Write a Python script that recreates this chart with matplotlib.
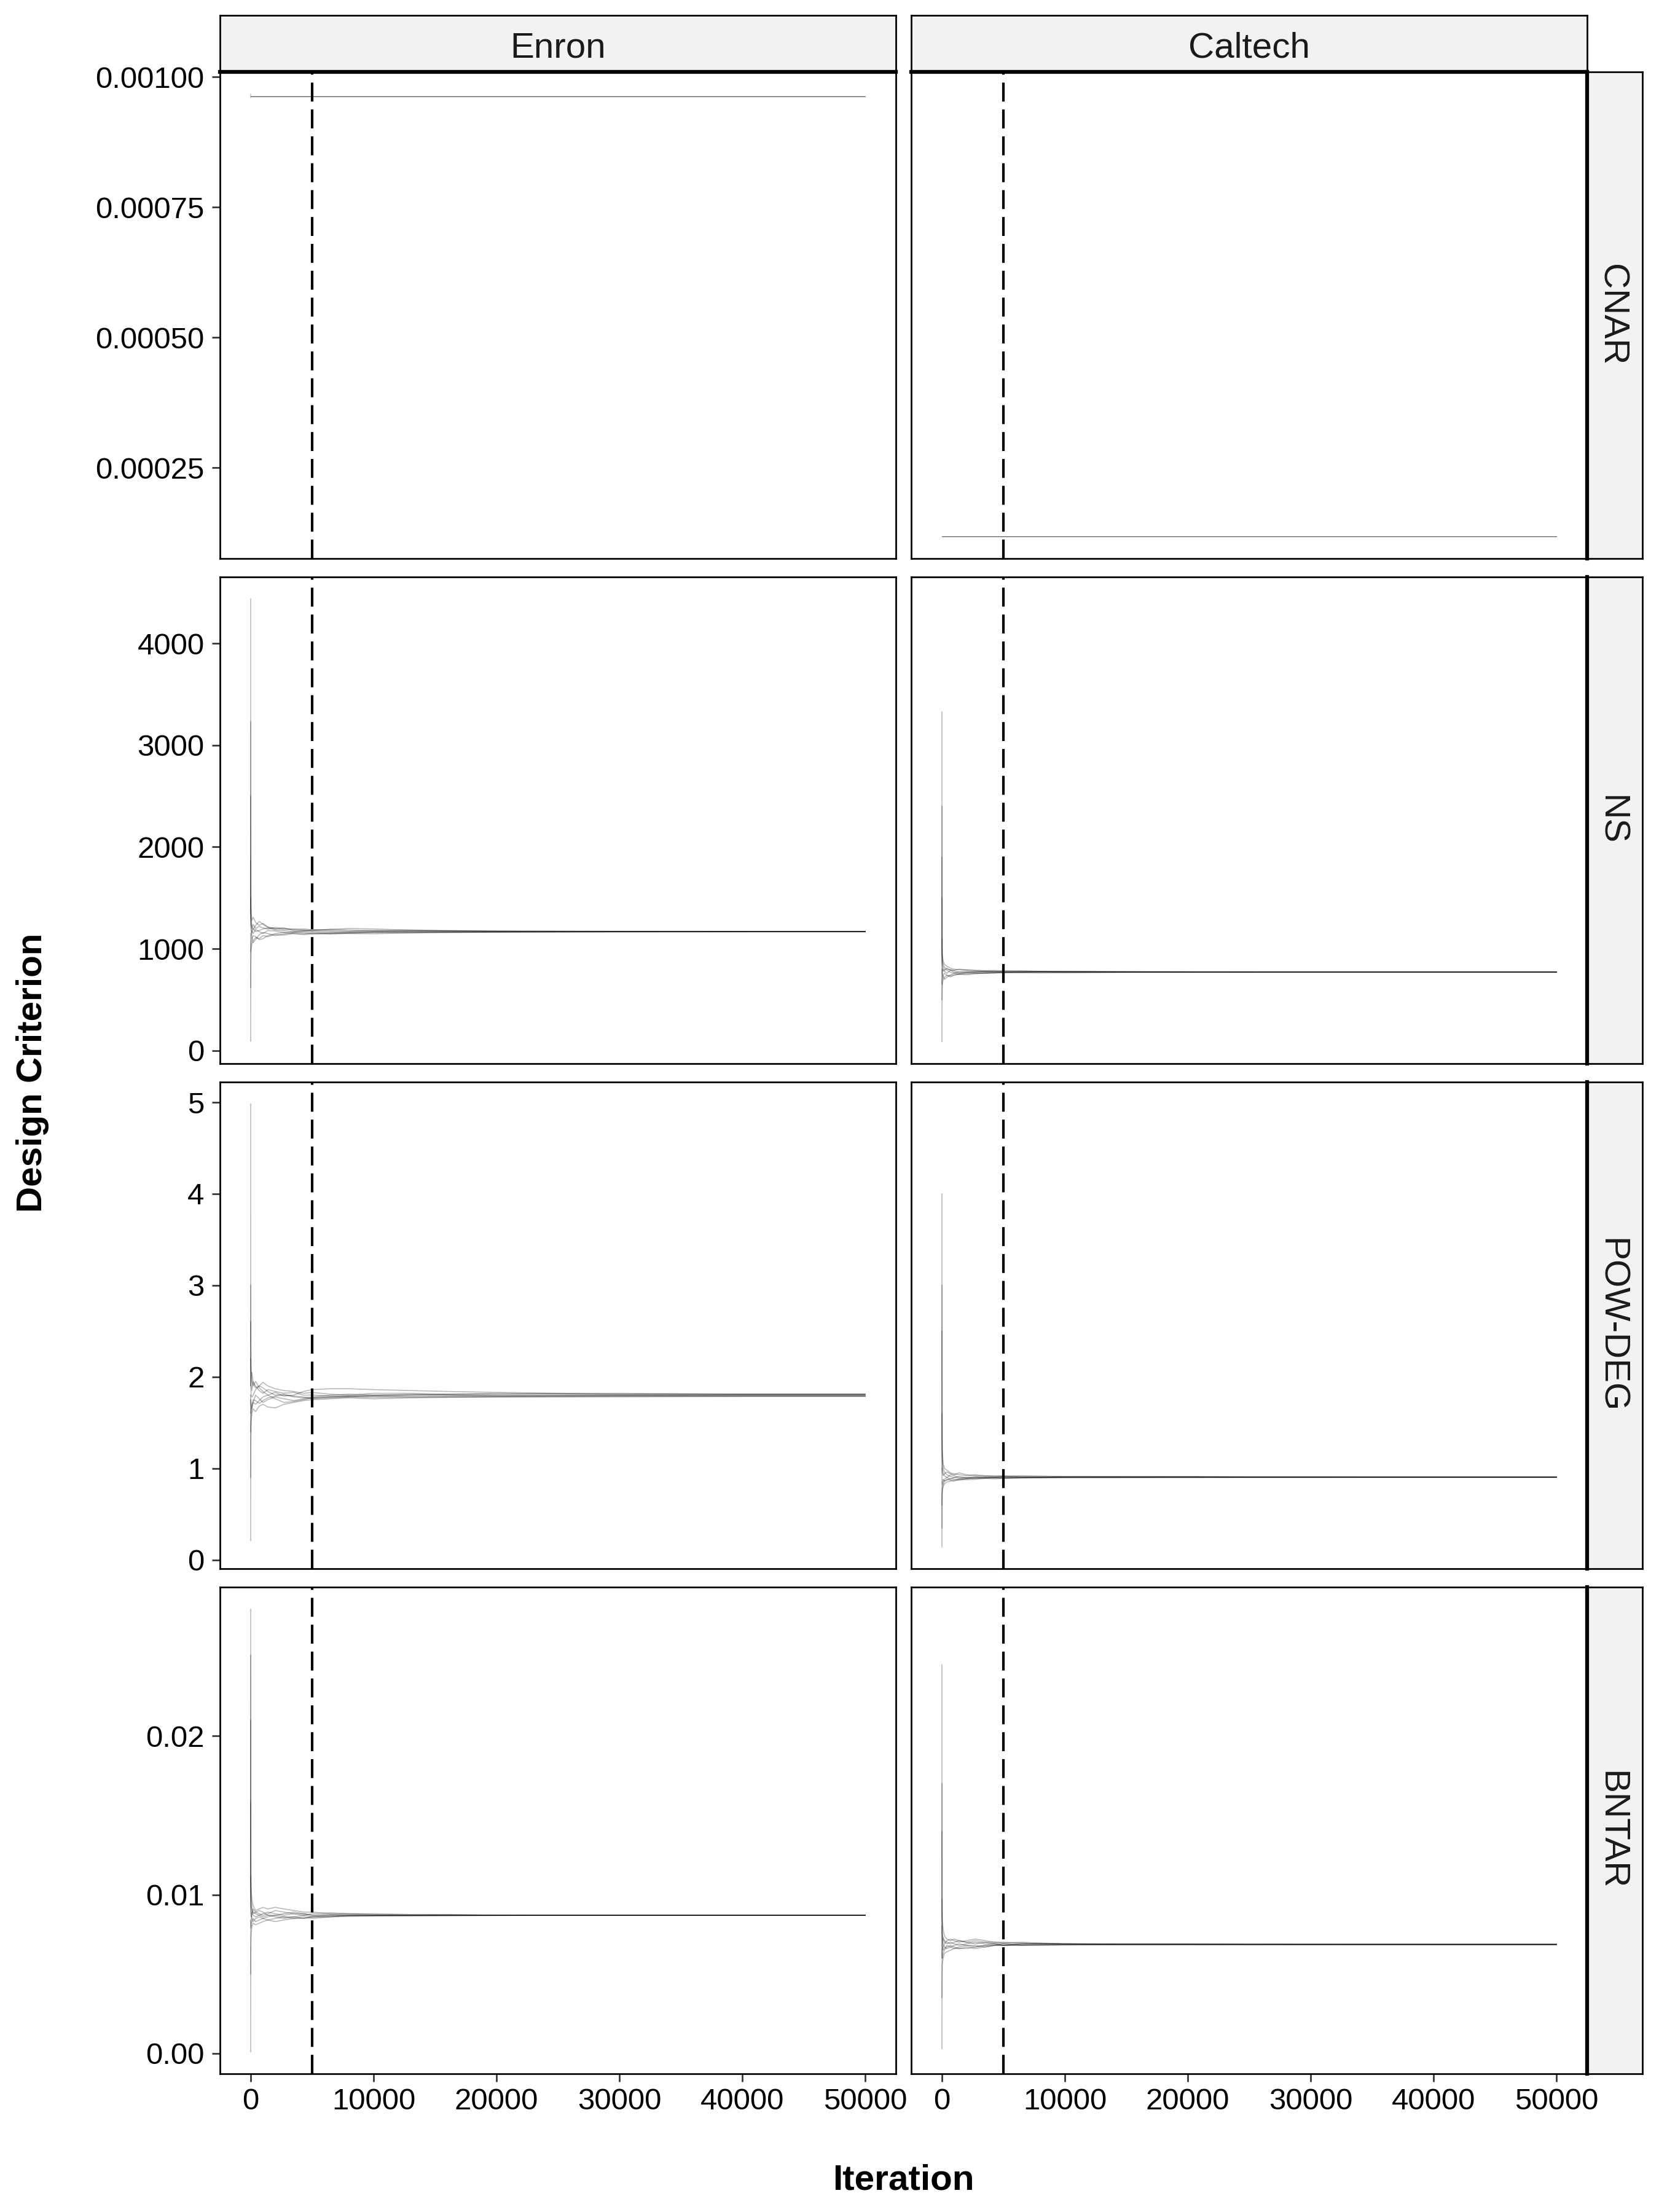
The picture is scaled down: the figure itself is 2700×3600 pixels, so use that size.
import matplotlib
matplotlib.use("Agg")
import matplotlib.pyplot as plt
from matplotlib.lines import Line2D

plt.rcParams['font.family'] = ['Liberation Sans', 'DejaVu Sans']

# ---------------- data ----------------
DATASETS = ["Enron", "Caltech"]
CRITERIA = ["CNAR", "NS", "POW-DEG", "BNTAR"]
BURN_IN = 5000

ITER = [1, 3, 10, 30, 100, 200, 400, 700, 1000, 1400, 2000, 2700, 3500, 4300,
        5000, 6500, 8000, 10000, 13000, 16000, 20000, 25000, 30000, 40000, 50000]
CNAR_ITER = [1, 3, 50000]

CNAR_ENRON = [
    [0.000967, 0.000962, 0.000962],
    [0.000960, 0.000962, 0.000962],
    [0.000962, 0.000962, 0.000962],
]
CNAR_CALTECH = [
    [0.000118, 0.000118, 0.000118],
    [0.000118, 0.000118, 0.000118],
    [0.000118, 0.000118, 0.000118],
]

NS_ENRON = [
    [4435, 2300, 1600, 1350, 1280, 1310, 1260, 1230, 1250, 1215, 1200, 1190, 1195, 1185, 1180, 1192, 1185, 1178, 1182, 1176, 1173, 1172, 1171, 1170, 1170],
    [95, 520, 850, 980, 1050, 1080, 1110, 1100, 1130, 1120, 1140, 1135, 1150, 1148, 1155, 1150, 1158, 1162, 1160, 1165, 1166, 1167, 1168, 1168, 1169],
    [3230, 1900, 1450, 1300, 1220, 1190, 1230, 1270, 1240, 1210, 1195, 1205, 1180, 1175, 1185, 1190, 1200, 1195, 1185, 1180, 1176, 1174, 1172, 1171, 1170],
    [1870, 1500, 1250, 1180, 1120, 1060, 1090, 1140, 1160, 1150, 1130, 1145, 1160, 1170, 1165, 1158, 1150, 1148, 1155, 1160, 1163, 1165, 1167, 1168, 1168],
    [975, 1150, 1050, 1110, 1180, 1150, 1190, 1170, 1150, 1180, 1175, 1160, 1150, 1140, 1145, 1155, 1165, 1170, 1168, 1166, 1168, 1170, 1169, 1169, 1169],
    [1500, 1350, 1400, 1260, 1200, 1240, 1200, 1220, 1205, 1195, 1210, 1200, 1190, 1195, 1188, 1180, 1175, 1180, 1178, 1175, 1172, 1170, 1171, 1170, 1170],
    [620, 900, 1000, 1060, 1100, 1130, 1120, 1090, 1100, 1130, 1150, 1160, 1165, 1158, 1150, 1145, 1152, 1160, 1163, 1162, 1164, 1166, 1167, 1168, 1168],
    [2500, 1700, 1300, 1220, 1160, 1200, 1170, 1180, 1195, 1205, 1185, 1178, 1170, 1180, 1175, 1170, 1165, 1168, 1172, 1174, 1171, 1170, 1170, 1169, 1169],
]
NS_CALTECH = [
    [3326, 1700, 1150, 950, 880, 850, 830, 810, 800, 795, 790, 785, 782, 780, 778, 780, 778, 776, 775, 774, 773, 773, 772, 772, 772],
    [90, 350, 550, 650, 700, 720, 740, 735, 745, 750, 755, 760, 758, 762, 765, 768, 770, 768, 770, 771, 771, 772, 772, 772, 772],
    [1900, 1200, 950, 870, 820, 800, 790, 770, 760, 775, 780, 770, 775, 778, 772, 770, 774, 776, 774, 773, 772, 772, 772, 772, 772],
    [1100, 900, 800, 760, 730, 700, 720, 745, 760, 750, 745, 755, 765, 770, 768, 765, 763, 766, 768, 770, 771, 771, 772, 772, 772],
    [500, 620, 700, 780, 800, 780, 760, 790, 785, 770, 765, 772, 780, 776, 780, 782, 779, 777, 776, 774, 773, 773, 772, 772, 772],
    [2400, 1400, 1000, 900, 850, 820, 800, 795, 790, 800, 795, 790, 785, 788, 784, 781, 779, 778, 776, 775, 774, 773, 773, 772, 772],
    [800, 700, 650, 700, 740, 760, 740, 725, 740, 755, 765, 762, 760, 765, 769, 772, 770, 769, 770, 771, 771, 772, 772, 772, 772],
    [1500, 1000, 850, 820, 780, 790, 810, 790, 770, 760, 770, 778, 772, 768, 770, 773, 775, 773, 772, 772, 772, 772, 772, 772, 772],
]

POW_ENRON = [
    [4.98, 3.1, 2.4, 2.1, 1.95, 1.9, 1.95, 1.88, 1.84, 1.8, 1.83, 1.79, 1.8, 1.84, 1.86, 1.87, 1.87, 1.86, 1.85, 1.84, 1.83, 1.82, 1.82, 1.81, 1.81],
    [0.21, 0.9, 1.3, 1.5, 1.6, 1.65, 1.62, 1.68, 1.7, 1.67, 1.66, 1.7, 1.72, 1.74, 1.75, 1.76, 1.77, 1.76, 1.77, 1.775, 1.78, 1.78, 1.78, 1.785, 1.785],
    [3.0, 2.4, 2.1, 1.9, 1.85, 1.95, 1.9, 1.85, 1.82, 1.86, 1.84, 1.82, 1.83, 1.8, 1.8, 1.79, 1.79, 1.8, 1.81, 1.8, 1.8, 1.8, 1.8, 1.8, 1.8],
    [1.4, 1.6, 1.75, 1.7, 1.65, 1.72, 1.8, 1.76, 1.72, 1.75, 1.78, 1.76, 1.74, 1.76, 1.77, 1.78, 1.79, 1.79, 1.78, 1.785, 1.79, 1.79, 1.79, 1.79, 1.79],
    [2.2, 1.95, 1.9, 2.0, 2.05, 1.93, 1.88, 1.9, 1.94, 1.9, 1.87, 1.85, 1.84, 1.82, 1.83, 1.81, 1.8, 1.82, 1.82, 1.81, 1.81, 1.815, 1.81, 1.81, 1.81],
    [0.9, 1.2, 1.45, 1.55, 1.68, 1.72, 1.7, 1.74, 1.78, 1.8, 1.76, 1.72, 1.73, 1.75, 1.77, 1.78, 1.78, 1.79, 1.8, 1.8, 1.79, 1.795, 1.795, 1.8, 1.8],
    [2.6, 2.2, 1.95, 1.8, 1.78, 1.8, 1.86, 1.9, 1.88, 1.84, 1.8, 1.81, 1.78, 1.77, 1.78, 1.8, 1.81, 1.8, 1.8, 1.81, 1.82, 1.815, 1.81, 1.81, 1.81],
    [1.7, 1.8, 1.6, 1.62, 1.7, 1.75, 1.74, 1.71, 1.74, 1.77, 1.79, 1.8, 1.79, 1.78, 1.76, 1.77, 1.78, 1.775, 1.78, 1.78, 1.78, 1.785, 1.79, 1.79, 1.79],
]
POW_CALTECH = [
    [4.0, 2.2, 1.5, 1.2, 1.05, 1.0, 0.98, 0.95, 0.94, 0.93, 0.92, 0.93, 0.92, 0.91, 0.915, 0.92, 0.915, 0.91, 0.91, 0.91, 0.91, 0.905, 0.905, 0.905, 0.905],
    [0.145, 0.45, 0.65, 0.75, 0.8, 0.83, 0.85, 0.86, 0.87, 0.88, 0.875, 0.88, 0.89, 0.895, 0.89, 0.895, 0.9, 0.9, 0.9, 0.9, 0.9, 0.9, 0.9, 0.9, 0.9],
    [2.5, 1.6, 1.2, 1.0, 0.95, 0.92, 0.9, 0.93, 0.92, 0.9, 0.89, 0.9, 0.905, 0.9, 0.9, 0.905, 0.905, 0.905, 0.905, 0.905, 0.905, 0.905, 0.905, 0.905, 0.905],
    [0.6, 0.7, 0.8, 0.85, 0.88, 0.86, 0.87, 0.89, 0.88, 0.87, 0.885, 0.895, 0.9, 0.9, 0.895, 0.9, 0.9, 0.9, 0.9, 0.9, 0.9, 0.902, 0.902, 0.903, 0.903],
    [1.6, 1.2, 1.0, 0.95, 0.92, 0.94, 0.96, 0.94, 0.93, 0.95, 0.93, 0.92, 0.915, 0.92, 0.915, 0.91, 0.91, 0.91, 0.91, 0.908, 0.908, 0.907, 0.907, 0.906, 0.906],
    [1.0, 0.9, 0.85, 0.82, 0.85, 0.88, 0.9, 0.88, 0.9, 0.91, 0.9, 0.89, 0.895, 0.9, 0.905, 0.9, 0.9, 0.902, 0.903, 0.903, 0.904, 0.904, 0.904, 0.904, 0.904],
    [3.0, 1.9, 1.3, 1.1, 1.0, 0.96, 0.93, 0.91, 0.9, 0.89, 0.9, 0.91, 0.9, 0.905, 0.91, 0.905, 0.9, 0.905, 0.905, 0.905, 0.905, 0.905, 0.905, 0.905, 0.905],
    [0.35, 0.55, 0.7, 0.78, 0.82, 0.86, 0.88, 0.87, 0.86, 0.88, 0.89, 0.895, 0.89, 0.885, 0.89, 0.895, 0.897, 0.9, 0.9, 0.902, 0.903, 0.903, 0.904, 0.904, 0.904],
]

BNTAR_ENRON = [
    [0.0280, 0.0160, 0.0120, 0.0105, 0.0097, 0.0093, 0.0090, 0.0091, 0.0092, 0.0091, 0.0092, 0.0091, 0.0090, 0.0089, 0.0089, 0.0088, 0.0088, 0.0088, 0.00875, 0.00875, 0.0087, 0.0087, 0.0087, 0.0087, 0.0087],
    [0.0001, 0.0040, 0.0065, 0.0075, 0.0080, 0.0082, 0.0081, 0.0082, 0.0083, 0.0084, 0.0083, 0.0084, 0.0085, 0.0085, 0.0086, 0.00862, 0.00865, 0.00865, 0.00867, 0.00868, 0.00869, 0.0087, 0.0087, 0.0087, 0.0087],
    [0.0251, 0.0140, 0.0110, 0.0098, 0.0092, 0.0089, 0.0088, 0.0087, 0.0088, 0.0089, 0.0088, 0.0087, 0.0088, 0.0088, 0.0087, 0.0087, 0.0087, 0.0087, 0.0087, 0.0087, 0.0087, 0.0087, 0.0087, 0.0087, 0.0087],
    [0.0158, 0.0110, 0.0095, 0.0090, 0.0085, 0.0083, 0.0085, 0.0086, 0.0085, 0.0084, 0.0085, 0.0086, 0.0086, 0.0085, 0.0086, 0.0086, 0.0087, 0.0087, 0.00868, 0.00868, 0.00869, 0.0087, 0.0087, 0.0087, 0.0087],
    [0.0050, 0.0070, 0.0078, 0.0083, 0.0088, 0.0091, 0.0089, 0.0088, 0.0087, 0.0088, 0.0090, 0.0089, 0.0088, 0.0087, 0.0088, 0.00885, 0.0088, 0.00875, 0.00872, 0.00872, 0.0087, 0.0087, 0.0087, 0.0087, 0.0087],
    [0.0111, 0.0095, 0.0088, 0.0086, 0.0089, 0.0087, 0.0086, 0.0087, 0.0086, 0.0087, 0.0086, 0.0085, 0.0086, 0.0087, 0.0086, 0.0087, 0.0087, 0.0087, 0.0087, 0.0087, 0.0087, 0.0087, 0.0087, 0.0087, 0.0087],
    [0.0079, 0.0084, 0.0082, 0.0080, 0.0083, 0.0085, 0.0083, 0.0084, 0.0085, 0.0086, 0.0087, 0.0086, 0.0085, 0.0086, 0.0085, 0.0086, 0.00863, 0.00866, 0.00868, 0.00869, 0.0087, 0.0087, 0.0087, 0.0087, 0.0087],
    [0.0210, 0.0120, 0.0100, 0.0092, 0.0090, 0.0088, 0.0089, 0.0090, 0.0089, 0.0087, 0.0087, 0.0088, 0.0089, 0.0088, 0.0087, 0.00875, 0.00872, 0.0087, 0.0087, 0.0087, 0.0087, 0.0087, 0.0087, 0.0087, 0.0087],
]
BNTAR_CALTECH = [
    [0.0245, 0.0140, 0.0100, 0.0085, 0.0078, 0.0074, 0.0072, 0.0071, 0.0072, 0.0071, 0.0070, 0.0071, 0.0070, 0.0070, 0.00695, 0.0070, 0.00695, 0.0069, 0.0069, 0.0069, 0.0069, 0.00688, 0.00687, 0.00686, 0.00686],
    [0.0003, 0.0030, 0.0048, 0.0056, 0.0060, 0.0063, 0.0064, 0.0065, 0.0066, 0.0066, 0.0067, 0.0066, 0.0067, 0.0068, 0.0068, 0.0068, 0.00682, 0.00683, 0.00684, 0.00684, 0.00685, 0.00685, 0.00686, 0.00686, 0.00686],
    [0.0170, 0.0110, 0.0085, 0.0076, 0.0072, 0.0070, 0.0069, 0.0070, 0.0069, 0.0068, 0.0069, 0.0070, 0.0069, 0.0069, 0.0069, 0.00688, 0.00688, 0.00687, 0.00687, 0.00687, 0.00686, 0.00686, 0.00686, 0.00686, 0.00686],
    [0.0097, 0.0080, 0.0072, 0.0068, 0.0065, 0.0066, 0.0068, 0.0067, 0.0066, 0.0067, 0.0068, 0.0067, 0.0068, 0.0068, 0.0068, 0.0069, 0.0069, 0.00688, 0.00686, 0.00686, 0.00686, 0.00686, 0.00686, 0.00686, 0.00686],
    [0.0035, 0.0050, 0.0058, 0.0064, 0.0067, 0.0069, 0.0071, 0.0072, 0.0071, 0.0070, 0.0071, 0.0072, 0.0071, 0.0070, 0.0070, 0.00695, 0.0069, 0.0069, 0.00688, 0.00688, 0.00687, 0.00687, 0.00686, 0.00686, 0.00686],
    [0.0140, 0.0095, 0.0080, 0.0072, 0.0069, 0.0067, 0.0066, 0.0067, 0.0068, 0.0069, 0.0068, 0.0068, 0.0067, 0.0068, 0.0069, 0.0068, 0.0068, 0.00683, 0.00684, 0.00685, 0.00686, 0.00686, 0.00686, 0.00686, 0.00686],
    [0.0060, 0.0064, 0.0066, 0.0070, 0.0073, 0.0071, 0.0070, 0.0069, 0.0070, 0.0071, 0.0070, 0.0069, 0.0070, 0.0069, 0.0068, 0.0069, 0.00692, 0.0069, 0.00688, 0.00687, 0.00687, 0.00686, 0.00686, 0.00686, 0.00686],
    [0.0080, 0.0072, 0.0062, 0.0060, 0.0063, 0.0065, 0.0067, 0.0068, 0.0067, 0.0066, 0.0066, 0.0067, 0.0068, 0.0069, 0.0068, 0.00682, 0.00685, 0.00686, 0.00686, 0.00686, 0.00686, 0.00686, 0.00686, 0.00686, 0.00686],
]

X_TICKS = [0, 10000, 20000, 30000, 40000, 50000]
X_TICKLABELS = ["0", "10000", "20000", "30000", "40000", "50000"]
Y_TICKS = {
    "CNAR": [0.00025, 0.00050, 0.00075, 0.00100],
    "NS": [0, 1000, 2000, 3000, 4000],
    "POW-DEG": [0, 1, 2, 3, 4, 5],
    "BNTAR": [0.00, 0.01, 0.02],
}
Y_TICKLABELS = {
    "CNAR": ["0.00025", "0.00050", "0.00075", "0.00100"],
    "NS": ["0", "1000", "2000", "3000", "4000"],
    "POW-DEG": ["0", "1", "2", "3", "4", "5"],
    "BNTAR": ["0.00", "0.01", "0.02"],
}

SERIES = {
    ("CNAR", "Enron"): (CNAR_ITER, CNAR_ENRON),
    ("CNAR", "Caltech"): (CNAR_ITER, CNAR_CALTECH),
    ("NS", "Enron"): (ITER, NS_ENRON),
    ("NS", "Caltech"): (ITER, NS_CALTECH),
    ("POW-DEG", "Enron"): (ITER, POW_ENRON),
    ("POW-DEG", "Caltech"): (ITER, POW_CALTECH),
    ("BNTAR", "Enron"): (ITER, BNTAR_ENRON),
    ("BNTAR", "Caltech"): (ITER, BNTAR_CALTECH),
}

# ---------------- layout (pixels) ----------------
W, H = 2700, 3600
fig = plt.figure(figsize=(9, 12), dpi=300)
fig.patch.set_facecolor("white")

COL_X = [(358, 1458), (1483, 2583)]
ROW_Y = [(117, 909), (939, 1731), (1761, 2553), (2583, 3375)]
STRIP_TOP = (25, 117)
STRIP_RIGHT = (2583, 2673)

def fx(px):
    return px / W

def fy(py):
    return 1 - py / H

BORDER_LW = 0.65
TICK_KW = dict(direction="out", length=3.1, width=0.65, color="#333333",
               labelsize=11.8, labelcolor="black")

def expand(lo, hi, frac=0.05):
    d = (hi - lo) * frac
    return lo - d, hi + d

xlim = expand(min(ITER), max(ITER))

for r, crit in enumerate(CRITERIA):
    allv = []
    for ds in DATASETS:
        for ch in SERIES[(crit, ds)][1]:
            allv.extend(ch)
    ylim = expand(min(allv), max(allv))
    y0, y1 = ROW_Y[r]
    for c, ds in enumerate(DATASETS):
        x0, x1 = COL_X[c]
        ax = fig.add_axes([fx(x0), fy(y1), (x1 - x0) / W, (y1 - y0) / H])
        iters, chains = SERIES[(crit, ds)]
        lw = 0.28 if crit == "CNAR" else 0.4
        al = 0.3 if crit == "CNAR" else 0.27
        for ch in chains:
            ax.plot(iters, ch, color="black", alpha=al, lw=lw,
                    solid_joinstyle="round")
        ax.axvline(BURN_IN, color="black", lw=1.0, dashes=(7.4, 3.1))
        ax.set_xlim(*xlim)
        ax.set_ylim(*ylim)
        for s in ax.spines.values():
            s.set_linewidth(BORDER_LW)
            s.set_color("black")
        ax.tick_params(**TICK_KW)
        ax.tick_params(axis="y", pad=3.0)
        ax.tick_params(axis="x", pad=2.5)
        ax.set_xticks(X_TICKS)
        ax.set_xticklabels(X_TICKLABELS)
        ax.set_yticks(Y_TICKS[crit])
        ax.set_yticklabels(Y_TICKLABELS[crit])
        if r != len(CRITERIA) - 1:
            ax.tick_params(axis="x", bottom=False, labelbottom=False)
        if c != 0:
            ax.tick_params(axis="y", left=False, labelleft=False)

# top strips
for c, ds in enumerate(DATASETS):
    x0, x1 = COL_X[c]
    sax = fig.add_axes([fx(x0), fy(STRIP_TOP[1]), (x1 - x0) / W,
                        (STRIP_TOP[1] - STRIP_TOP[0]) / H])
    sax.set_facecolor("#F2F2F2")
    sax.set_xticks([]); sax.set_yticks([])
    for s in sax.spines.values():
        s.set_linewidth(BORDER_LW); s.set_color("black")
    fig.text(fx((x0 + x1) / 2), fy(94), ds, ha="center", va="baseline",
             fontsize=14, color="#1A1A1A")
    fig.add_artist(Line2D([fx(x0), fx(x1)], [fy(STRIP_TOP[1])] * 2,
                          transform=fig.transFigure, lw=1.5, color="black"))

# right strips
for r, crit in enumerate(CRITERIA):
    y0, y1 = ROW_Y[r]
    sax = fig.add_axes([fx(STRIP_RIGHT[0]), fy(y1),
                        (STRIP_RIGHT[1] - STRIP_RIGHT[0]) / W, (y1 - y0) / H])
    sax.set_facecolor("#F2F2F2")
    sax.set_xticks([]); sax.set_yticks([])
    for s in sax.spines.values():
        s.set_linewidth(BORDER_LW); s.set_color("black")
    fig.text(fx(2607), fy((y0 + y1) / 2), crit, ha="center", va="baseline",
             rotation=-90, rotation_mode="anchor", fontsize=14, color="#1A1A1A")
    fig.add_artist(Line2D([fx(STRIP_RIGHT[0])] * 2, [fy(y0), fy(y1)],
                          transform=fig.transFigure, lw=1.5, color="black"))

# axis titles
fig.text(fx((COL_X[0][0] + COL_X[1][1]) / 2), fy(3563), "Iteration",
         ha="center", va="baseline", fontsize=14, fontweight="bold")
fig.text(fx(68), fy((ROW_Y[0][0] + ROW_Y[-1][1]) / 2), "Design Criterion",
         ha="center", va="baseline", rotation=90, rotation_mode="anchor",
         fontsize=14, fontweight="bold")

fig.savefig("out.png", dpi=300, facecolor="white")
